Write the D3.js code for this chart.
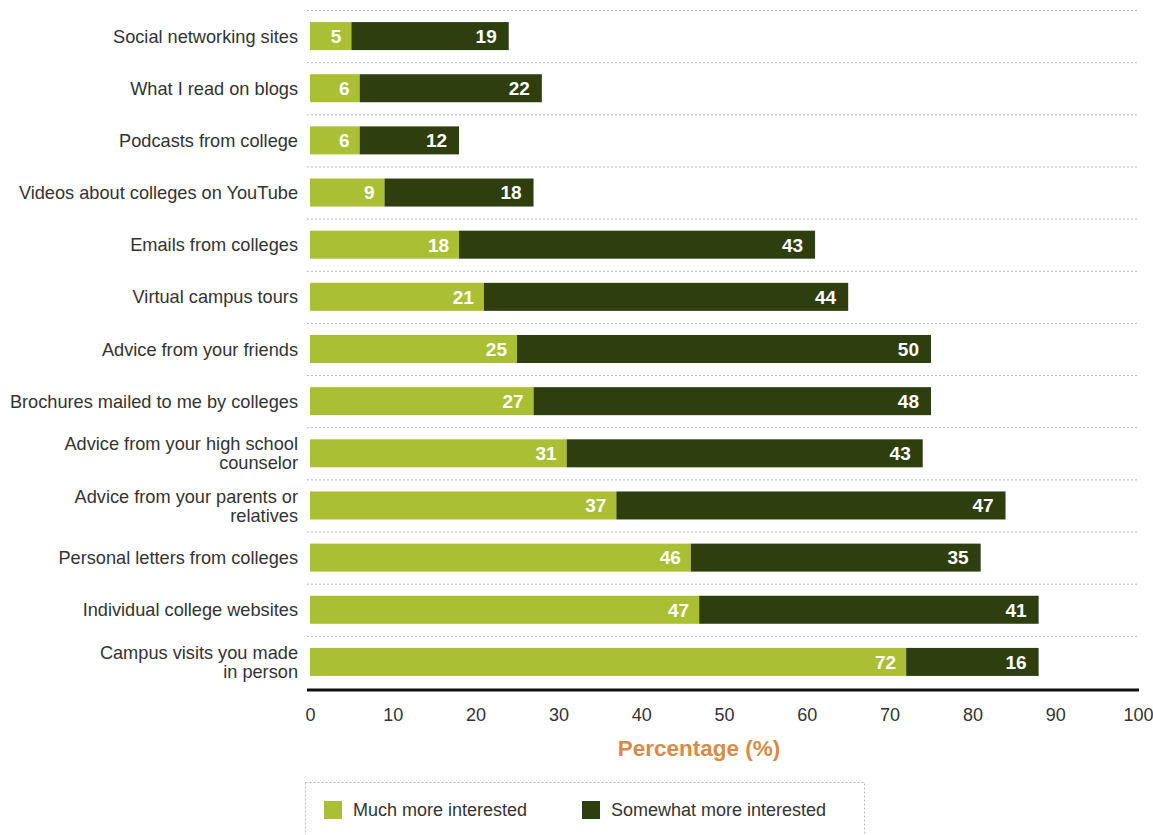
<!DOCTYPE html>
<html>
<head>
<meta charset="utf-8">
<script src="https://cdn.jsdelivr.net/npm/d3@7"></script>
<style>
  html, body { margin: 0; padding: 0; background: #fff; }
  svg { display: block; font-family: "Liberation Sans", Arial, Helvetica, sans-serif; }
</style>
</head>
<body>
<svg id="chart" width="1153" height="835"></svg>
<script>
// Sources of information and how much more interested students became
const categories = [
  "Social networking sites",
  "What I read on blogs",
  "Podcasts from college",
  "Videos about colleges on YouTube",
  "Emails from colleges",
  "Virtual campus tours",
  "Advice from your friends",
  "Brochures mailed to me by colleges",
  "Advice from your high school|counselor",
  "Advice from your parents or|relatives",
  "Personal letters from colleges",
  "Individual college websites",
  "Campus visits you made|in person"
];
const muchMore     = [5, 6, 6, 9, 18, 21, 25, 27, 31, 37, 46, 47, 72];
const somewhatMore = [19, 22, 12, 18, 43, 44, 50, 48, 43, 47, 35, 41, 16];
const seriesNames  = ["Much more interested", "Somewhat more interested"];
const tickValues   = [0, 10, 20, 30, 40, 50, 60, 70, 80, 90, 100];
const axisTitle    = "Percentage (%)";

const colors = ["#abbf35", "#2f3e0f"];

const svg = d3.select("#chart");

const x = d3.scaleLinear().domain([0, 100]).range([310, 1138]);
const y = d3.scaleBand()
  .domain(categories)
  .range([10, 688])
  .paddingInner(0.463)
  .paddingOuter(0.2315);

// dotted separators between rows
const step = y.step();
svg.append("g")
  .selectAll("line")
  .data(d3.range(categories.length))
  .join("line")
  .attr("x1", 307)
  .attr("x2", 1138)
  .attr("y1", i => 10 + i * step + 0.5)
  .attr("y2", i => 10 + i * step + 0.5)
  .attr("stroke", "#b8b8b8")
  .attr("stroke-width", 1)
  .attr("stroke-dasharray", "2,2");

// stacked rows
const rows = categories.map((c, i) => ({
  cat: c,
  parts: [
    { s: 0, v: muchMore[i], x0: 0, x1: muchMore[i] },
    { s: 1, v: somewhatMore[i], x0: muchMore[i], x1: muchMore[i] + somewhatMore[i] }
  ]
}));

const rowG = svg.append("g")
  .selectAll("g")
  .data(rows)
  .join("g")
  .attr("transform", d => `translate(0,${y(d.cat)})`);

rowG.selectAll("rect")
  .data(d => d.parts)
  .join("rect")
  .attr("x", d => x(d.x0))
  .attr("width", d => x(d.x1) - x(d.x0))
  .attr("y", 0)
  .attr("height", y.bandwidth())
  .attr("fill", d => colors[d.s]);

rowG.selectAll("text.val")
  .data(d => d.parts)
  .join("text")
  .attr("class", "val")
  .attr("x", d => x(d.x1) - (d.s === 0 ? 10 : 12))
  .attr("y", y.bandwidth() / 2)
  .attr("dy", "0.36em")
  .attr("text-anchor", "end")
  .attr("fill", "#fff")
  .attr("font-weight", "bold")
  .attr("font-size", "19px")
  .text(d => d.v);

// category labels (some wrap onto two lines)
const labelG = svg.append("g")
  .selectAll("text")
  .data(categories)
  .join("text")
  .attr("text-anchor", "end")
  .attr("fill", "#333")
  .attr("font-size", "18.2px")
  .attr("transform", d => `translate(298,${y(d) + y.bandwidth() / 2})`);

labelG.each(function (d) {
  const lines = d.split("|");
  const lh = 19;
  const t = d3.select(this);
  lines.forEach((ln, k) => {
    t.append("tspan")
      .attr("x", 0)
      .attr("y", (k - (lines.length - 1) / 2) * lh)
      .attr("dy", "0.36em")
      .text(ln);
  });
});

// x axis
const axis = d3.axisBottom(x)
  .tickValues(tickValues)
  .tickSize(0)
  .tickPadding(0)
  .tickFormat(d3.format("d"));

const axG = svg.append("g")
  .attr("transform", "translate(0,690)")
  .call(axis);
axG.select(".domain").remove();
axG.selectAll("text")
  .attr("y", 31)
  .attr("dy", 0)
  .attr("fill", "#333")
  .attr("font-size", "18px")
  .attr("font-family", "\"Liberation Sans\", Arial, sans-serif");

svg.append("line")
  .attr("x1", 307)
  .attr("x2", 1139)
  .attr("y1", 690)
  .attr("y2", 690)
  .attr("stroke", "#111")
  .attr("stroke-width", 3);

svg.append("text")
  .attr("x", 699)
  .attr("y", 756)
  .attr("text-anchor", "middle")
  .attr("fill", "#d98b45")
  .attr("font-weight", "bold")
  .attr("font-size", "22.5px")
  .text(axisTitle);

// legend
svg.append("rect")
  .attr("x", 305.5)
  .attr("y", 782.5)
  .attr("width", 559)
  .attr("height", 80)
  .attr("fill", "none")
  .attr("stroke", "#b8b8b8")
  .attr("stroke-width", 1)
  .attr("stroke-dasharray", "2,2");

const legendX = [324, 582];
const leg = svg.append("g")
  .selectAll("g")
  .data(seriesNames)
  .join("g")
  .attr("transform", (d, i) => `translate(${legendX[i]},801)`);
leg.append("rect")
  .attr("width", 18)
  .attr("height", 18)
  .attr("fill", (d, i) => colors[i]);
leg.append("text")
  .attr("x", 29)
  .attr("y", 9)
  .attr("dy", "0.36em")
  .attr("fill", "#333")
  .attr("font-size", "18px")
  .text(d => d);
</script>
</body>
</html>
